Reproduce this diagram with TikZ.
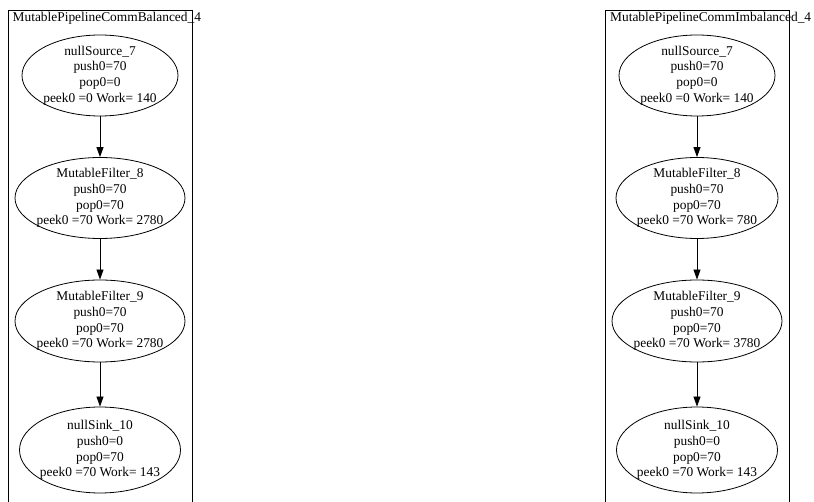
\documentclass[tikz,border=0pt]{standalone}
\usepackage{fontspec}
\setmainfont{Liberation Serif}
\usetikzlibrary{shapes.geometric,arrows.meta}
\begin{document}
\begin{tikzpicture}[x=1pt,y=-1pt,
  every node/.style={font=\fontsize{13.4}{15.7}\selectfont, text=black},
  filt/.style={ellipse, draw=black, line width=0.8pt, inner xsep=-40pt, inner ysep=-25pt, align=center},
  clus/.style={draw=black, line width=0.8pt},
  flow/.style={draw=black, line width=0.8pt, -{Triangle[length=10pt,width=7pt]}}]
\useasboundingbox (0,0) rectangle (814,502);
\begin{scope}
\clip (0,0) rectangle (814,502);
% left cluster
\draw[clus] (8,10) rectangle (192,520);
\node[anchor=base west, inner sep=0pt] (lt) at (12.5,22) {MutablePipelineCommBalanced\_4};
\node[filt, minimum width=156pt, minimum height=81pt] (a1) at (100,75.5) {nullSource\_7\\push0=70\\pop0=0\\peek0 =0 Work= 140};
\node[filt, minimum width=170pt, minimum height=81pt] (a2) at (100,198) {MutableFilter\_8\\push0=70\\pop0=70\\peek0 =70 Work= 2780};
\node[filt, minimum width=170pt, minimum height=82pt] (a3) at (100,321) {MutableFilter\_9\\push0=70\\pop0=70\\peek0 =70 Work= 2780};
\node[filt, minimum width=161pt, minimum height=86pt] (a4) at (100,450) {nullSink\_10\\push0=0\\pop0=70\\peek0 =70 Work= 143};
\draw[flow] (a1.south) -- (a2.north);
\draw[flow] (a2.south) -- (a3.north);
\draw[flow] (a3.south) -- (a4.north);
% right cluster
\draw[clus] (605,10) rectangle (789,520);
\node[anchor=base west, inner sep=0pt] (rt) at (610,22) {MutablePipelineCommImbalanced\_4};
\node[filt, minimum width=156pt, minimum height=81pt] (b1) at (697,75.5) {nullSource\_7\\push0=70\\pop0=0\\peek0 =0 Work= 140};
\node[filt, minimum width=162pt, minimum height=81pt] (b2) at (697,198) {MutableFilter\_8\\push0=70\\pop0=70\\peek0 =70 Work= 780};
\node[filt, minimum width=170pt, minimum height=82pt] (b3) at (697,321) {MutableFilter\_9\\push0=70\\pop0=70\\peek0 =70 Work= 3780};
\node[filt, minimum width=161pt, minimum height=86pt] (b4) at (697,450) {nullSink\_10\\push0=0\\pop0=70\\peek0 =70 Work= 143};
\draw[flow] (b1.south) -- (b2.north);
\draw[flow] (b2.south) -- (b3.north);
\draw[flow] (b3.south) -- (b4.north);
\end{scope}
\end{tikzpicture}
\end{document}
